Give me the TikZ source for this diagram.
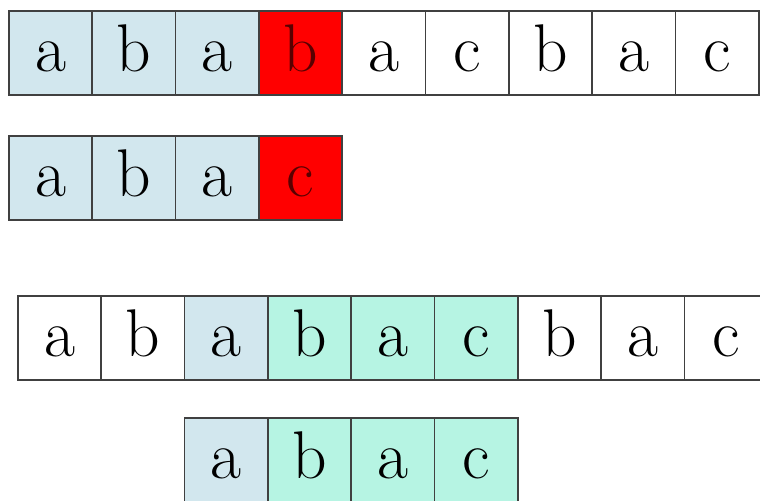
\documentclass[tikz,border=0pt]{standalone}
\usepackage{tikz}
\usepackage{xcolor}
\usetikzlibrary{positioning}

\definecolor{matchblue}{HTML}{D2E7EE}
\definecolor{matchteal}{HTML}{B6F4E3}
\definecolor{missred}{HTML}{FF0000}

\begin{document}
\begin{tikzpicture}[
  cell/.style={
    inner sep=0pt, outer sep=0pt,
    minimum width=2.083cm, minimum height=2.1cm,
    text height=27pt, text depth=0pt,
    font=\fontsize{48}{48}\selectfont
  },
  bluecell/.style={cell, fill=matchblue},
  tealcell/.style={cell, fill=matchteal},
  redcell/.style={cell, fill=missred, text=black!65!red},
  cellline/.style={draw=black!75, line width=1.2pt}
]
\useasboundingbox (0,0) rectangle (19,-12.5);
\clip (0,0) rectangle (19,-12.5);

% first try: text and pattern
\node[bluecell] (ta1) at (1.266,-1.325) {a};
\node[bluecell, right=0pt of ta1] (ta2) {b};
\node[bluecell, right=0pt of ta2] (ta3) {a};
\node[redcell, right=0pt of ta3] (ta4) {b};
\node[cell, right=0pt of ta4] (ta5) {a};
\node[cell, right=0pt of ta5] (ta6) {c};
\node[cell, right=0pt of ta6] (ta7) {b};
\node[cell, right=0pt of ta7] (ta8) {a};
\node[cell, right=0pt of ta8] (ta9) {c};

\node[bluecell] (pa1) at (1.266,-4.45) {a};
\node[bluecell, right=0pt of pa1] (pa2) {b};
\node[bluecell, right=0pt of pa2] (pa3) {a};
\node[redcell, right=0pt of pa3] (pa4) {c};

% after the shift
\node[cell] (tb1) at (1.491,-8.45) {a};
\node[cell, right=0pt of tb1] (tb2) {b};
\node[bluecell, right=0pt of tb2] (tb3) {a};
\node[tealcell, right=0pt of tb3] (tb4) {b};
\node[tealcell, right=0pt of tb4] (tb5) {a};
\node[tealcell, right=0pt of tb5] (tb6) {c};
\node[cell, right=0pt of tb6] (tb7) {b};
\node[cell, right=0pt of tb7] (tb8) {a};
\node[cell, right=0pt of tb8] (tb9) {c};

\node[bluecell, below=0pt of tb3, yshift=-0.95cm] (pb1) {a};
\node[tealcell, right=0pt of pb1] (pb2) {b};
\node[tealcell, right=0pt of pb2] (pb3) {a};
\node[tealcell, right=0pt of pb3] (pb4) {c};

% borders on top of the fills
\foreach \n in {ta1,ta2,ta3,ta4,ta5,ta6,ta7,ta8,ta9,pa1,pa2,pa3,pa4,
                tb1,tb2,tb3,tb4,tb5,tb6,tb7,tb8,tb9,pb1,pb2,pb3,pb4}
  \draw[cellline] (\n.south west) rectangle (\n.north east);
\end{tikzpicture}
\end{document}
